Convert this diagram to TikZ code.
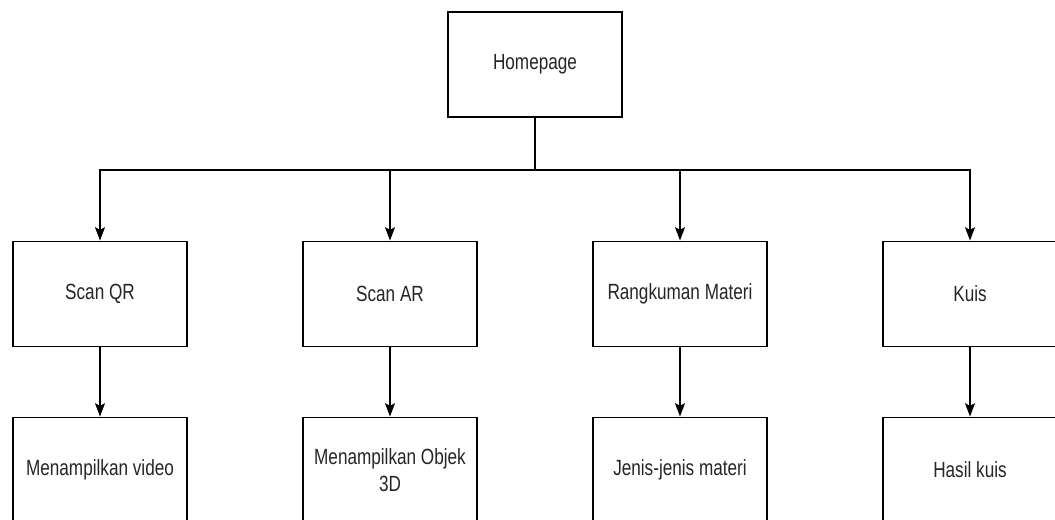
\documentclass[tikz,border=0pt]{standalone}
\usepackage{fontspec}
\setmainfont[FakeStretch=0.78]{Liberation Sans}
\usetikzlibrary{arrows.meta,positioning}

\begin{document}
\begin{tikzpicture}[x=0.75pt,y=-0.75pt,node distance=132pt,line width=1.2pt,
  >={Stealth[length=10pt,width=7.5pt,inset=2pt]},
  box/.style={draw,minimum width=130.5pt,minimum height=79pt,inner sep=0pt,
    align=center,font=\fontsize{16.5}{20}\selectfont,text=black!85}]
  \useasboundingbox (0,0) rectangle (1055,520);
  \fill[white] (0,0) rectangle (1055,520);

  \node[box] (home)  at (535,64.5) {Homepage};
  \coordinate (bus)  at (535,170);

  \node[box] (qr)    at (100,294) {Scan QR};
  \node[box] (ar)    at (390,294) {Scan AR};
  \node[box] (rangk) at (680,294) {Rangkuman Materi};
  \node[box] (kuis)  at (970,294) {Kuis};

  \node[box] (video)  [below of=qr]    {Menampilkan video};
  \node[box] (objek)  [below of=ar]    {Menampilkan Objek\\3D};
  \node[box] (jenis)  [below of=rangk] {Jenis-jenis materi};
  \node[box] (hasil)  [below of=kuis]  {Hasil kuis};

  \draw (home.south) -- (bus);
  \draw[->] (bus) -| (qr.north);
  \draw[->] (bus) -| (ar.north);
  \draw[->] (bus) -| (rangk.north);
  \draw[->] (bus) -| (kuis.north);

  \draw[->] (qr)    -- (video);
  \draw[->] (ar)    -- (objek);
  \draw[->] (rangk) -- (jenis);
  \draw[->] (kuis)  -- (hasil);
\end{tikzpicture}
\end{document}
